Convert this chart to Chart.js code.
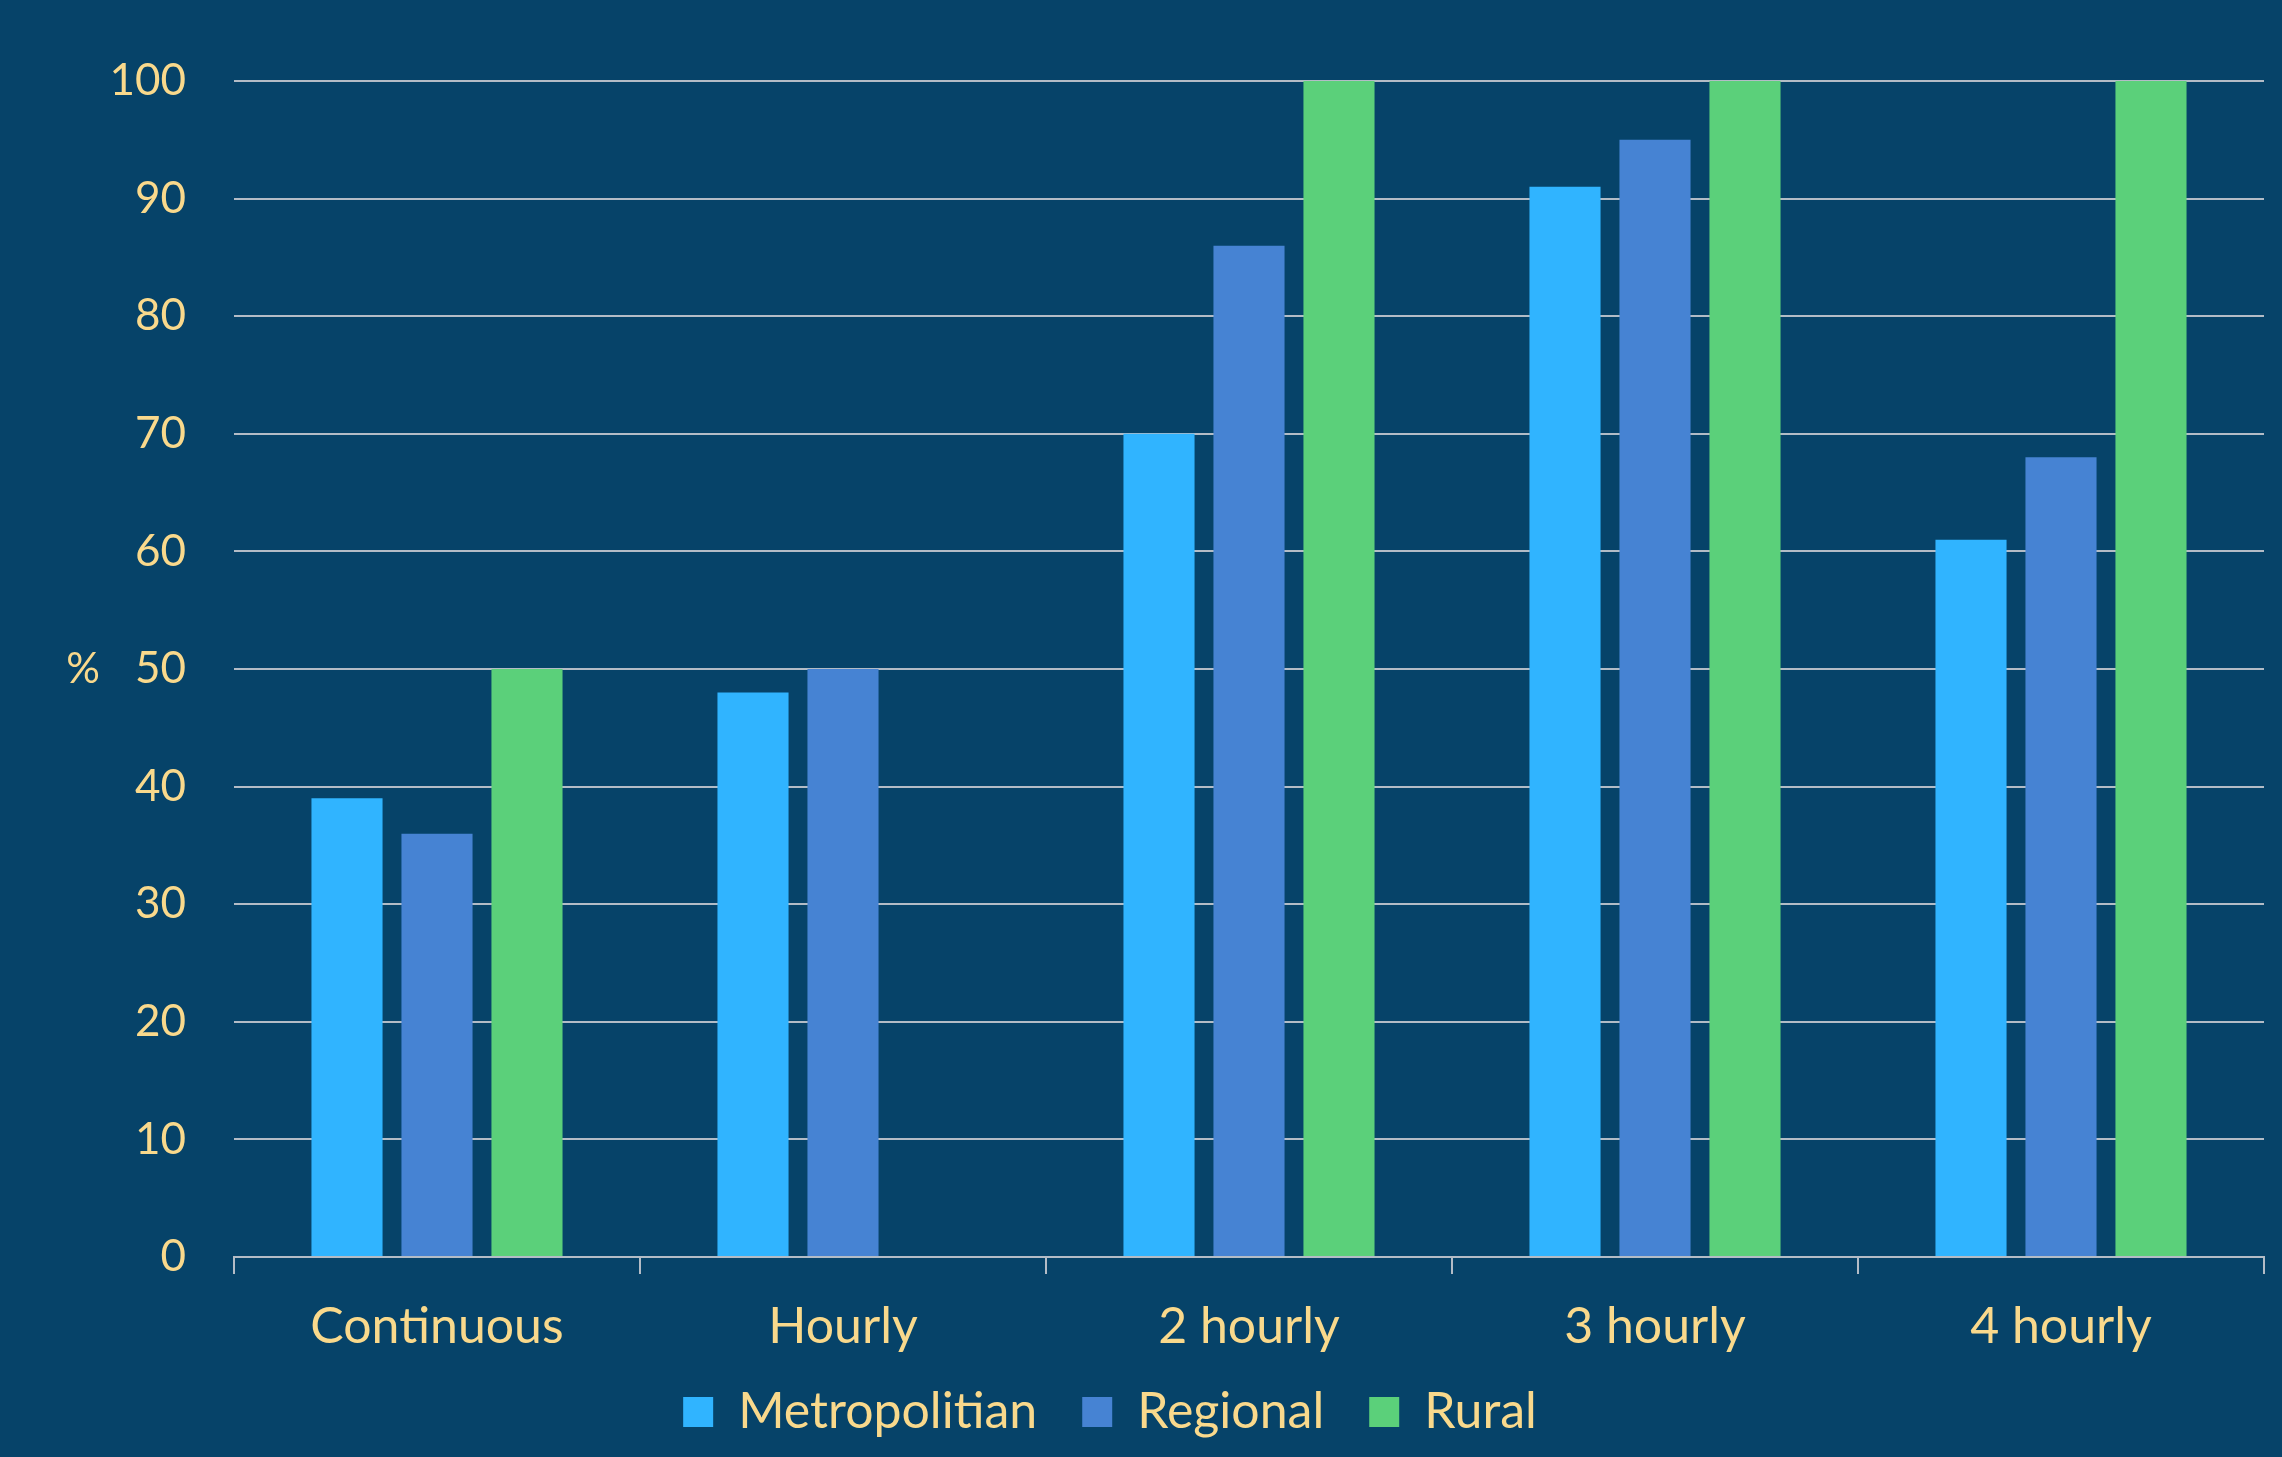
<!DOCTYPE html>
<html>
<head>
<meta charset="utf-8">
<script src="https://cdn.jsdelivr.net/npm/chart.js@4/dist/chart.umd.min.js"></script>
<style>
  html, body { margin: 0; padding: 0; background: #064369; }
  #wrap { width: 2282px; height: 1457px; position: relative; }
</style>
</head>
<body>
<div id="wrap"><canvas id="chart"></canvas></div>
<script>
const categories = ['Continuous', 'Hourly', '2 hourly', '3 hourly', '4 hourly'];
const metropolitan = [39, 48, 70, 91, 61];
const regional = [36, 50, 86, 95, 68];
const rural = [50, null, 100, 100, 100];
const seriesNames = ['Metropolitian', 'Regional', 'Rural'];
const yTicks = [0, 10, 20, 30, 40, 50, 60, 70, 80, 90, 100];
const yTitle = '%';

const TEXT = '#f9d98c';
const GRID = '#b3bcc6';
const FONT = 'Lato, "Open Sans", sans-serif';

const yTitlePlugin = {
    id: 'yTitle',
    afterLayout(chart) {
        // nudge the legend a bit left and up, like the original
        const lg = chart.legend;
        lg.left -= 22;
        lg.right -= 22;
        lg.top -= 20;
        lg.bottom -= 20;
    },
    // the "%" label sits upright left of the axis
    afterDraw(chart) {
        const ctx = chart.ctx;
        const area = chart.chartArea;
        ctx.save();
        ctx.fillStyle = TEXT;
        ctx.font = '42px ' + FONT;
        ctx.textAlign = 'center';
        ctx.textBaseline = 'middle';
        ctx.fillText(yTitle, 83, (area.top + area.bottom) / 2);
        ctx.restore();
    }
};

const bar = (label, data, color) => ({
    label: label,
    data: data,
    backgroundColor: color,
    borderWidth: 0,
    categoryPercentage: 0.665,
    barPercentage: 0.79
});

new Chart(document.getElementById('chart'), {
    type: 'bar',
    data: {
        labels: categories,
        datasets: [
            bar(seriesNames[0], metropolitan, '#30b4ff'),
            bar(seriesNames[1], regional, '#4683d3'),
            bar(seriesNames[2], rural, '#5bd07a')
        ]
    },
    plugins: [yTitlePlugin],
    options: {
        responsive: true,
        maintainAspectRatio: false,
        animation: false,
        layout: { padding: { top: 81, right: 18, bottom: -10, left: 0 } },
        plugins: {
            tooltip: { enabled: false },
            legend: {
                position: 'bottom',
                padding: 0,
                labels: {
                    color: TEXT,
                    font: { family: FONT, size: 50, lineHeight: 1 },
                    boxWidth: 30,
                    boxHeight: 30,
                    padding: 45
                }
            }
        },
        scales: {
            x: {
                afterFit(scale) { scale.height = 105; },
                grid: {
                    drawOnChartArea: false,
                    drawTicks: true,
                    tickLength: 17,
                    color: GRID,
                    lineWidth: 2
                },
                border: { color: GRID, width: 2 },
                ticks: {
                    color: TEXT,
                    font: { family: FONT, size: 50 },
                    padding: 23
                }
            },
            y: {
                min: 0,
                max: 100,
                afterFit(scale) { scale.width = 234; },
                afterBuildTicks(scale) { scale.ticks = yTicks.map(v => ({ value: v })); },
                grid: { color: GRID, lineWidth: 2, drawTicks: false },
                border: { display: false },
                ticks: {
                    color: TEXT,
                    font: { family: FONT, size: 44 },
                    padding: 48
                }
            }
        }
    }
});
</script>
</body>
</html>
